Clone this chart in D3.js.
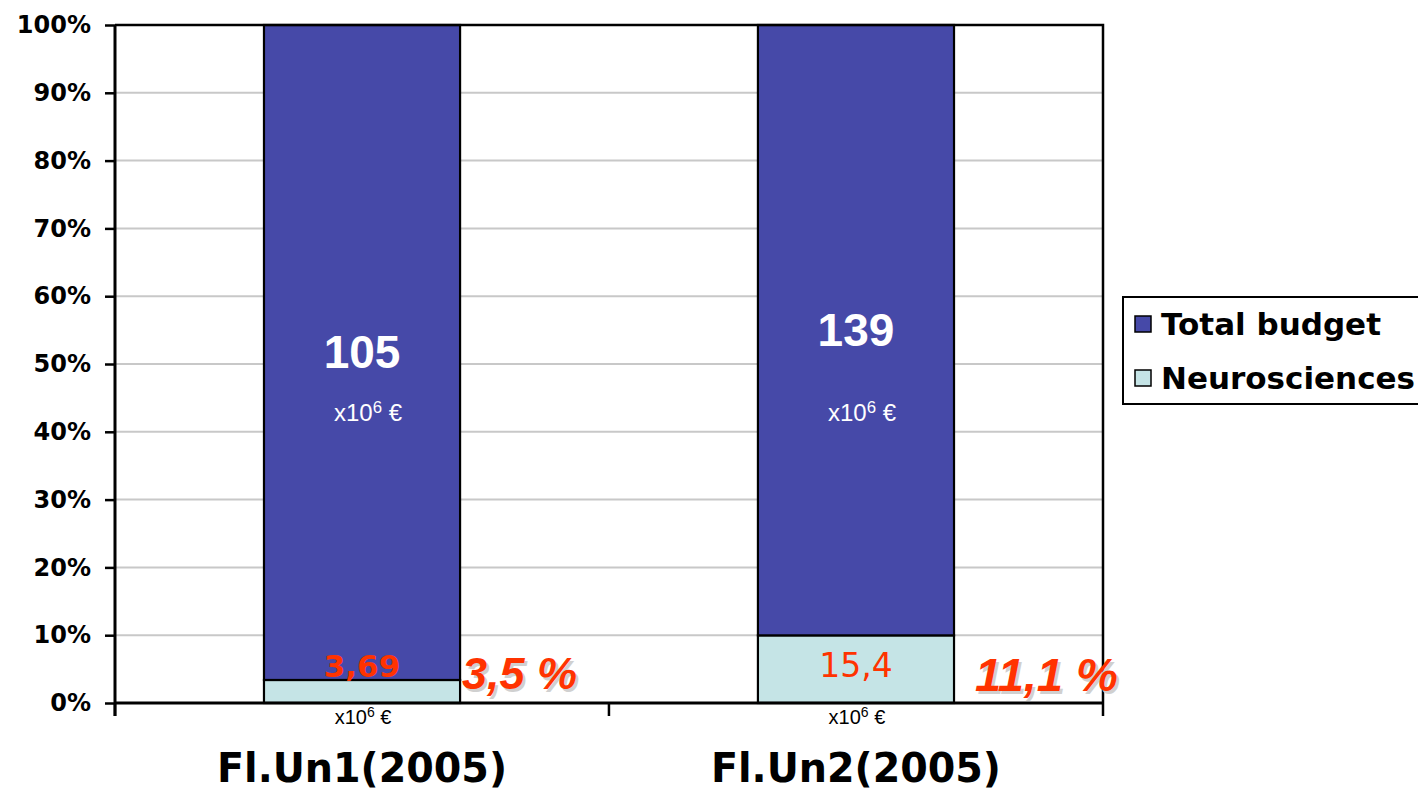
<!DOCTYPE html>
<html>
<head>
<meta charset="utf-8">
<script src="https://cdn.jsdelivr.net/npm/d3@7"></script>
<style>
  body { margin: 0; background: #fff; }
  svg { display: block; }
</style>
</head>
<body>
<svg id="chart" width="1418" height="793"></svg>
<script>
// data
const categories = ['Fl.Un1(2005)', 'Fl.Un2(2005)'];
const neuroValues = [3.69, 15.4];
const totalValues = [105, 139];
const neuroLabels = ['3,69', '15,4'];
const totalLabels = ['105', '139'];
const shareLabels = ['3,5 %', '11,1 %'];
const yTicks = [0, 0.1, 0.2, 0.3, 0.4, 0.5, 0.6, 0.7, 0.8, 0.9, 1];
const seriesNames = ['Total budget', 'Neurosciences'];

const colors = { 'Total budget': '#4649a8', 'Neurosciences': '#c5e4e6' };
const red = '#ff3300';
const tahoma = 'Tahoma, "DejaVu Sans", sans-serif';
const arial = 'Arial, "Liberation Sans", sans-serif';

const svg = d3.select('#chart');
const plotLeft = 115, plotRight = 1103, plotTop = 25, plotBottom = 703;

const rows = categories.map((c, i) => ({ cat: c, Neurosciences: neuroValues[i], 'Total budget': totalValues[i] }));
const stack = d3.stack().keys(['Neurosciences', 'Total budget']).offset(d3.stackOffsetExpand);
const layers = stack(rows);

const x = d3.scaleBand().domain(categories).range([plotLeft, plotRight]).paddingInner(0.603).paddingOuter(0.3016);
const y = d3.scaleLinear().domain([0, 1]).range([plotBottom, plotTop]);

// gridlines
svg.append('g').selectAll('line')
  .data(yTicks.filter(t => t > 0 && t < 1))
  .enter().append('line')
    .attr('x1', plotLeft).attr('x2', plotRight)
    .attr('y1', d => y(d)).attr('y2', d => y(d))
    .attr('stroke', '#c8c8c8').attr('stroke-width', 2);

// bars
svg.append('g').selectAll('g')
  .data(layers)
  .enter().append('g')
    .attr('fill', d => colors[d.key])
  .selectAll('rect')
  .data(d => d)
  .enter().append('rect')
    .attr('x', d => x(d.data.cat))
    .attr('width', x.bandwidth())
    .attr('y', d => y(d[1]))
    .attr('height', d => y(d[0]) - y(d[1]))
    .attr('stroke', '#000').attr('stroke-width', 2.2);

// plot frame (top and right)
svg.append('path')
  .attr('d', `M${plotLeft},${plotTop}H${plotRight}V${plotBottom}`)
  .attr('fill', 'none').attr('stroke', '#000').attr('stroke-width', 2.5);

// y axis
const yAxis = svg.append('g')
  .attr('transform', `translate(${plotLeft},0)`)
  .call(d3.axisLeft(y).tickValues(yTicks).tickFormat(d3.format('.0%')).tickSize(10).tickPadding(14));
yAxis.select('.domain').attr('d', `M0,${plotTop}V${plotBottom + 13}`).attr('stroke-width', 3);
yAxis.selectAll('.tick line').attr('stroke-width', 2.5);
yAxis.selectAll('.tick text')
  .attr('font-family', tahoma).attr('font-weight', 'bold').attr('font-size', 24).attr('fill', '#000');

// x axis, ticks between categories
const xAxis = svg.append('g')
  .attr('transform', `translate(0,${plotBottom})`);
xAxis.append('line')
  .attr('x1', plotLeft).attr('x2', plotRight)
  .attr('stroke', '#000').attr('stroke-width', 3);
const xTickPos = categories.map(c => x(c) - x.step() * x.paddingOuter()).concat([plotRight]);
xAxis.selectAll('line.tick')
  .data(xTickPos)
  .enter().append('line')
    .attr('class', 'tick')
    .attr('x1', d => d).attr('x2', d => d)
    .attr('y1', 0).attr('y2', 13)
    .attr('stroke', '#000').attr('stroke-width', 2.5);

// category labels
svg.append('g').selectAll('text')
  .data(categories)
  .enter().append('text')
    .attr('x', d => x(d) + x.bandwidth() / 2)
    .attr('y', 782)
    .attr('text-anchor', 'middle')
    .attr('font-family', tahoma).attr('font-weight', 'bold').attr('font-size', 40)
    .attr('textLength', 290).attr('lengthAdjust', 'spacingAndGlyphs')
    .text(d => d);

// unit labels "x10^6 €"
const unit = (g, cx, cy, size, fill) => {
  const t = g.append('text')
    .attr('x', cx).attr('y', cy)
    .attr('text-anchor', 'middle')
    .attr('font-family', arial).attr('font-size', size).attr('fill', fill);
  t.append('tspan').text('x10');
  t.append('tspan').attr('font-size', size * 0.7).attr('dy', -size * 0.33).text('6');
  t.append('tspan').attr('dy', size * 0.33).text(' €');
};
const units = svg.append('g');
categories.forEach(c => unit(units, x(c) + x.bandwidth() / 2 + 1, 724, 20, '#000'));

// total budget values in the bars
const totalLayer = layers.find(l => l.key === 'Total budget');
svg.append('g').selectAll('text')
  .data(totalLayer)
  .enter().append('text')
    .attr('x', d => x(d.data.cat) + x.bandwidth() / 2)
    .attr('y', d => y((d[0] + d[1]) / 2) + 16)
    .attr('text-anchor', 'middle')
    .attr('font-family', arial).attr('font-weight', 'bold').attr('font-size', 46).attr('fill', '#fff')
    .text((d, i) => totalLabels[i]);
categories.forEach(c => unit(units, x(c) + x.bandwidth() / 2 + 6, 421, 24, '#fff'));

// neuroscience values
svg.append('g').selectAll('text')
  .data(categories)
  .enter().append('text')
    .attr('x', d => x(d) + x.bandwidth() / 2)
    .attr('y', 677)
    .attr('text-anchor', 'middle')
    .attr('font-family', tahoma).attr('font-weight', (d, i) => i === 0 ? 'bold' : 'normal')
    .attr('font-size', (d, i) => i === 0 ? 31 : 33).attr('fill', red)
    .text((d, i) => neuroLabels[i]);

// share labels with shadow
const share = svg.append('g');
[['#d0d0d0', 2.5], [red, 0]].forEach(([fill, off]) => {
  share.selectAll(null)
    .data(categories)
    .enter().append('text')
      .attr('x', d => x(d) + x.bandwidth() + (d === categories[0] ? 2 : 21) + off)
      .attr('y', (d, i) => (i === 0 ? 689 : 691) + off)
      .attr('font-family', arial).attr('font-weight', 'bold').attr('font-style', 'italic')
      .attr('font-size', (d, i) => i === 0 ? 45 : 47).attr('fill', fill)
      .text((d, i) => shareLabels[i]);
});

// legend
const legend = svg.append('g').attr('transform', 'translate(1123,297)');
legend.append('rect')
  .attr('width', 300).attr('height', 107)
  .attr('fill', '#fff').attr('stroke', '#000').attr('stroke-width', 2);
const items = legend.selectAll('g.item')
  .data(seriesNames)
  .enter().append('g')
    .attr('class', 'item')
    .attr('transform', (d, i) => `translate(12,${19 + i * 54})`);
items.append('rect')
  .attr('width', 16).attr('height', 16)
  .attr('fill', d => colors[d]).attr('stroke', '#000').attr('stroke-width', 1.5);
items.append('text')
  .attr('x', 26).attr('y', 19)
  .attr('font-family', tahoma).attr('font-weight', 'bold').attr('font-size', 31)
  .text(d => d);
</script>
</body>
</html>
